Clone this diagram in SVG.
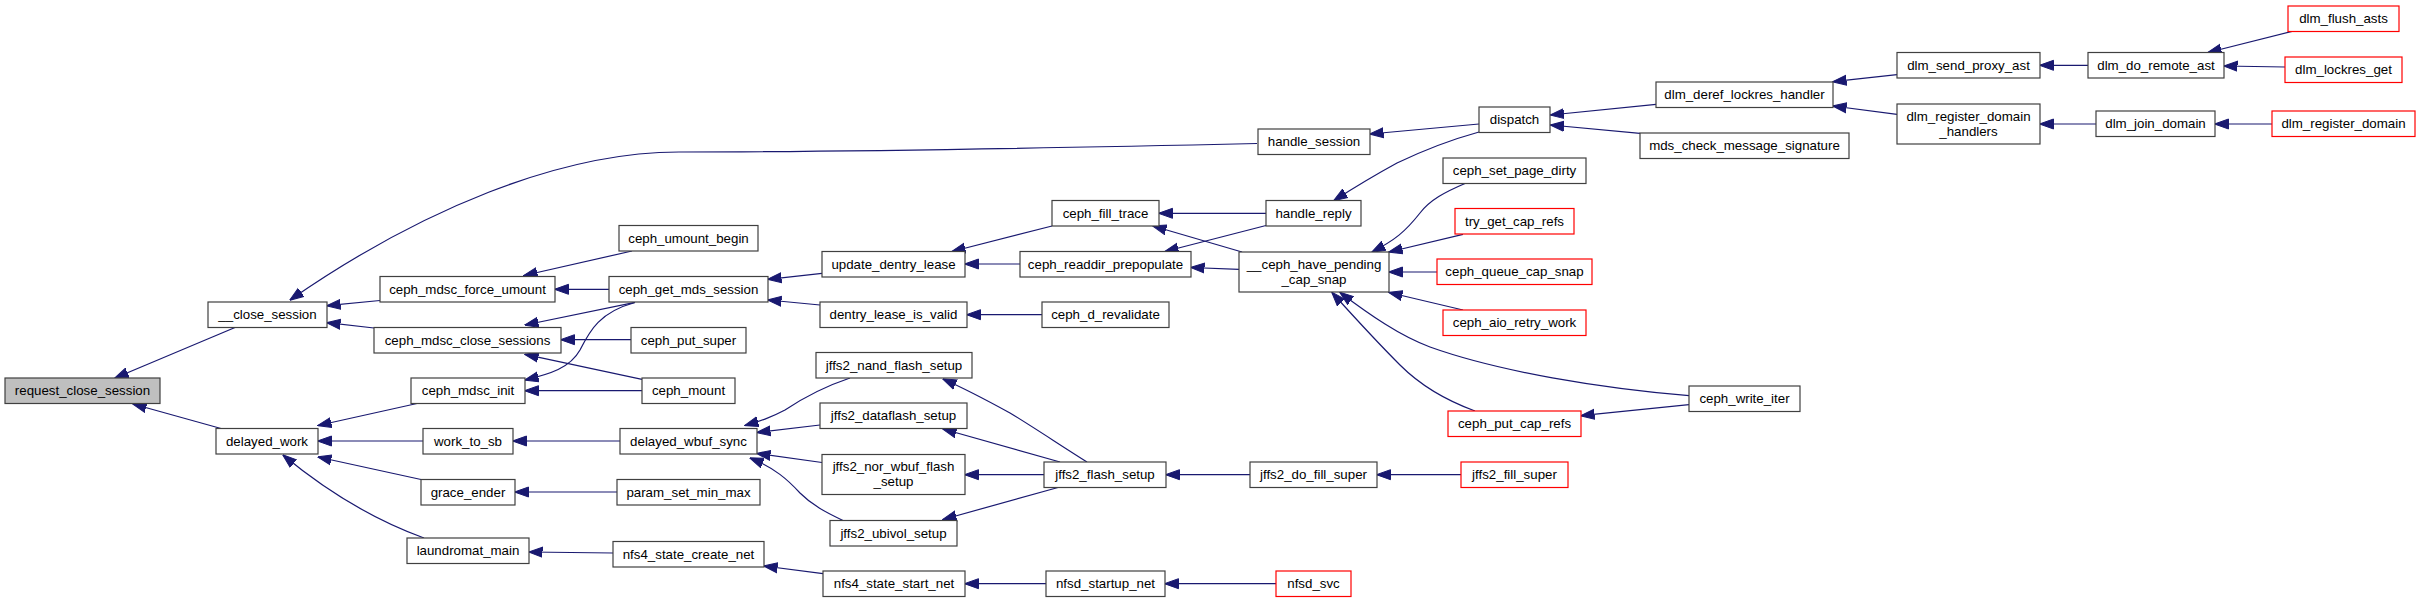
<svg xmlns="http://www.w3.org/2000/svg" width="2420" height="603" viewBox="0 0 2420 603">
<style>
.n rect{fill:#ffffff;stroke:#404040;stroke-width:1.2}
.r rect{fill:#ffffff;stroke:#ff0000;stroke-width:1.2}
.root rect{fill:#bfbfbf;stroke:#404040;stroke-width:1.2}
text{font-family:"Liberation Sans",Arial,Helvetica,sans-serif;font-size:13.3px;text-anchor:middle;fill:#000000}
#edges path{fill:none;stroke:#191970;stroke-width:1.2;marker-end:url(#ah)}
</style>
<defs>
<marker id="ah" markerUnits="userSpaceOnUse" markerWidth="14" markerHeight="12" viewBox="0 0 14 12" refX="13.5" refY="6" orient="auto">
<path d="M0,1 L14,6 L0,11 z" fill="#191970" stroke="#191970" stroke-width="1"/>
</marker>
</defs>
<rect width="2420" height="603" fill="#ffffff"/>
<g id="edges">
<path d="M235,327.5 L115,378"/>
<path d="M221,428.5 L133,404"/>
<path d="M1257,143.5 C1100,147 850,152 679,152 C560,152 420,210 290,300"/>
<path d="M380,300.5 L327,305.7"/>
<path d="M374,328 L327,322.7"/>
<path d="M417,403.5 L318,425.5"/>
<path d="M423,441 L318,441"/>
<path d="M421,479.5 L318,457"/>
<path d="M424,538 C380,522 330,494 283,455"/>
<path d="M632,251 L524,275.5"/>
<path d="M609,289.3 L555,289.3"/>
<path d="M635,302.3 L525,325"/>
<path d="M635,302.5 C600,312 590,330 580,350 C570,368 550,374 525,380"/>
<path d="M631,339.7 L561,339.7"/>
<path d="M642,379.3 L525,354.3"/>
<path d="M642,390.7 L525,390.7"/>
<path d="M620,441 L513,441"/>
<path d="M617,492 L515,492"/>
<path d="M613,553 L529,552"/>
<path d="M822,273.3 L768,279.3"/>
<path d="M820,305 L768,300"/>
<path d="M850,378 C820,388 800,400 785,410 C770,418 760,421 745,425.5"/>
<path d="M820,425 L757,432.5"/>
<path d="M822,462.5 L757,453.5"/>
<path d="M843,520.5 C825,512 812,505 800,493 C788,480 775,468 750,458"/>
<path d="M823,573.7 L764,566"/>
<path d="M1052,226 L952,251.5"/>
<path d="M1020,264 L965,264"/>
<path d="M1042,314.7 L967,314.7"/>
<path d="M1087,462 C1060,445 1030,425 1010,413 C990,402 970,391 943,379"/>
<path d="M1060,462 L943,429"/>
<path d="M1044,474.7 L965,474.7"/>
<path d="M1058,487.5 L943,519.5"/>
<path d="M1250,474.7 L1166,474.7"/>
<path d="M1461,474.7 L1377,474.7"/>
<path d="M1046,583.7 L965,583.7"/>
<path d="M1276,583.7 L1165,583.7"/>
<path d="M1266,213.3 L1159,213.3"/>
<path d="M1266,225.5 L1165,251.5"/>
<path d="M1242,252 L1153,226"/>
<path d="M1239,269.3 L1191,267.5"/>
<path d="M1479,124 L1370,134"/>
<path d="M1479,132 C1450,140 1420,152 1397,163 C1375,175 1355,187 1334,200.5"/>
<path d="M1656,104.3 L1550.5,115"/>
<path d="M1640,133.3 L1550.5,125"/>
<path d="M1465,183.5 C1445,192 1430,200 1420,213 C1405,232 1395,240 1372,252"/>
<path d="M1463,234.3 L1389,252"/>
<path d="M1437,272 L1389,272"/>
<path d="M1463,310 L1389,292.5"/>
<path d="M1689,395.7 C1600,388 1500,372 1430,347 C1400,336 1370,315 1340,292.5"/>
<path d="M1475,411 C1445,400 1420,385 1400,365 C1380,345 1355,318 1332,292.5"/>
<path d="M1689,404.7 L1581,415.7"/>
<path d="M1897,74.7 L1833,81.7"/>
<path d="M1897,114.3 L1833,106"/>
<path d="M2088,65.3 L2040,65.3"/>
<path d="M2096,124 L2040,124"/>
<path d="M2292,31.3 L2208,52.5"/>
<path d="M2285,67 L2224,66"/>
<path d="M2272,124 L2215,124"/>
</g>
<g id="request_close_session" class="root"><rect x="5" y="378" width="155" height="25.5"/><text x="82.5" y="395.2">request_close_session</text></g>
<g id="__close_session" class="n"><rect x="208" y="302" width="119" height="25.5"/><text x="267.5" y="319.2">__close_session</text></g>
<g id="delayed_work" class="n"><rect x="216" y="428.5" width="102" height="25.5"/><text x="267" y="445.7">delayed_work</text></g>
<g id="ceph_mdsc_force_umount" class="n"><rect x="380" y="276.5" width="175" height="25.5"/><text x="467.5" y="293.7">ceph_mdsc_force_umount</text></g>
<g id="ceph_mdsc_close_sessions" class="n"><rect x="374" y="327.5" width="187" height="25.5"/><text x="467.5" y="344.7">ceph_mdsc_close_sessions</text></g>
<g id="ceph_mdsc_init" class="n"><rect x="411" y="378" width="114" height="25.5"/><text x="468" y="395.2">ceph_mdsc_init</text></g>
<g id="work_to_sb" class="n"><rect x="423" y="428.5" width="90" height="25.5"/><text x="468" y="445.7">work_to_sb</text></g>
<g id="grace_ender" class="n"><rect x="421" y="479.5" width="94" height="25.5"/><text x="468" y="496.7">grace_ender</text></g>
<g id="laundromat_main" class="n"><rect x="407" y="538" width="122" height="25.5"/><text x="468" y="555.2">laundromat_main</text></g>
<g id="handle_session" class="n"><rect x="1258" y="129" width="112" height="25.5"/><text x="1314" y="146.2">handle_session</text></g>
<g id="ceph_umount_begin" class="n"><rect x="619" y="225.5" width="139" height="25.5"/><text x="688.5" y="242.7">ceph_umount_begin</text></g>
<g id="ceph_get_mds_session" class="n"><rect x="609" y="276.5" width="159" height="25.5"/><text x="688.5" y="293.7">ceph_get_mds_session</text></g>
<g id="ceph_put_super" class="n"><rect x="631" y="327.5" width="115" height="25.5"/><text x="688.5" y="344.7">ceph_put_super</text></g>
<g id="ceph_mount" class="n"><rect x="642" y="378" width="93" height="25.5"/><text x="688.5" y="395.2">ceph_mount</text></g>
<g id="delayed_wbuf_sync" class="n"><rect x="620" y="428.5" width="137" height="25.5"/><text x="688.5" y="445.7">delayed_wbuf_sync</text></g>
<g id="param_set_min_max" class="n"><rect x="617" y="479.5" width="143" height="25.5"/><text x="688.5" y="496.7">param_set_min_max</text></g>
<g id="nfs4_state_create_net" class="n"><rect x="613" y="541.5" width="151" height="25.5"/><text x="688.5" y="558.7">nfs4_state_create_net</text></g>
<g id="update_dentry_lease" class="n"><rect x="822" y="251.5" width="143" height="25.5"/><text x="893.5" y="268.7">update_dentry_lease</text></g>
<g id="dentry_lease_is_valid" class="n"><rect x="820" y="302" width="147" height="25.5"/><text x="893.5" y="319.2">dentry_lease_is_valid</text></g>
<g id="jffs2_nand_flash_setup" class="n"><rect x="816" y="352.5" width="156" height="25.5"/><text x="894" y="369.7">jffs2_nand_flash_setup</text></g>
<g id="jffs2_dataflash_setup" class="n"><rect x="820" y="403" width="147" height="25.5"/><text x="893.5" y="420.2">jffs2_dataflash_setup</text></g>
<g id="jffs2_nor_wbuf_flash_setup" class="n"><rect x="822" y="454.5" width="143" height="40"/><text x="893.5" y="471">jffs2_nor_wbuf_flash</text><text x="893.5" y="486">_setup</text></g>
<g id="jffs2_ubivol_setup" class="n"><rect x="830" y="520.5" width="127" height="25.5"/><text x="893.5" y="537.7">jffs2_ubivol_setup</text></g>
<g id="nfs4_state_start_net" class="n"><rect x="823" y="571" width="142" height="25.5"/><text x="894" y="588.2">nfs4_state_start_net</text></g>
<g id="ceph_fill_trace" class="n"><rect x="1052" y="200.5" width="107" height="25.5"/><text x="1105.5" y="217.7">ceph_fill_trace</text></g>
<g id="ceph_readdir_prepopulate" class="n"><rect x="1020" y="251.5" width="171" height="25.5"/><text x="1105.5" y="268.7">ceph_readdir_prepopulate</text></g>
<g id="ceph_d_revalidate" class="n"><rect x="1042" y="302" width="127" height="25.5"/><text x="1105.5" y="319.2">ceph_d_revalidate</text></g>
<g id="jffs2_flash_setup" class="n"><rect x="1044" y="462" width="122" height="25.5"/><text x="1105" y="479.2">jffs2_flash_setup</text></g>
<g id="nfsd_startup_net" class="n"><rect x="1046" y="571" width="119" height="25.5"/><text x="1105.5" y="588.2">nfsd_startup_net</text></g>
<g id="handle_reply" class="n"><rect x="1266" y="200.5" width="95" height="25.5"/><text x="1313.5" y="217.7">handle_reply</text></g>
<g id="__ceph_have_pending_cap_snap" class="n"><rect x="1239" y="252" width="150" height="40"/><text x="1314" y="268.5">__ceph_have_pending</text><text x="1314" y="283.5">_cap_snap</text></g>
<g id="jffs2_do_fill_super" class="n"><rect x="1250" y="462" width="127" height="25.5"/><text x="1313.5" y="479.2">jffs2_do_fill_super</text></g>
<g id="nfsd_svc" class="r"><rect x="1276" y="571" width="75" height="25.5"/><text x="1313.5" y="588.2">nfsd_svc</text></g>
<g id="dispatch" class="n"><rect x="1479" y="107" width="71" height="25.5"/><text x="1514.5" y="124.2">dispatch</text></g>
<g id="ceph_set_page_dirty" class="n"><rect x="1443" y="158" width="143" height="25.5"/><text x="1514.5" y="175.2">ceph_set_page_dirty</text></g>
<g id="try_get_cap_refs" class="r"><rect x="1455" y="208.5" width="119" height="25.5"/><text x="1514.5" y="225.7">try_get_cap_refs</text></g>
<g id="ceph_queue_cap_snap" class="r"><rect x="1437" y="259" width="155" height="25.5"/><text x="1514.5" y="276.2">ceph_queue_cap_snap</text></g>
<g id="ceph_aio_retry_work" class="r"><rect x="1443" y="310" width="143" height="25.5"/><text x="1514.5" y="327.2">ceph_aio_retry_work</text></g>
<g id="ceph_put_cap_refs" class="r"><rect x="1448" y="411" width="133" height="25.5"/><text x="1514.5" y="428.2">ceph_put_cap_refs</text></g>
<g id="jffs2_fill_super" class="r"><rect x="1461" y="462" width="107" height="25.5"/><text x="1514.5" y="479.2">jffs2_fill_super</text></g>
<g id="ceph_write_iter" class="n"><rect x="1689" y="386" width="111" height="25.5"/><text x="1744.5" y="403.2">ceph_write_iter</text></g>
<g id="dlm_deref_lockres_handler" class="n"><rect x="1656" y="82" width="177" height="25.5"/><text x="1744.5" y="99.2">dlm_deref_lockres_handler</text></g>
<g id="mds_check_message_signature" class="n"><rect x="1640" y="133" width="209" height="25.5"/><text x="1744.5" y="150.2">mds_check_message_signature</text></g>
<g id="dlm_send_proxy_ast" class="n"><rect x="1897" y="52.5" width="143" height="25.5"/><text x="1968.5" y="69.7">dlm_send_proxy_ast</text></g>
<g id="dlm_register_domain_handlers" class="n"><rect x="1897" y="104" width="143" height="40"/><text x="1968.5" y="120.5">dlm_register_domain</text><text x="1968.5" y="135.5">_handlers</text></g>
<g id="dlm_do_remote_ast" class="n"><rect x="2088" y="52.5" width="136" height="25.5"/><text x="2156" y="69.7">dlm_do_remote_ast</text></g>
<g id="dlm_join_domain" class="n"><rect x="2096" y="111" width="119" height="25.5"/><text x="2155.5" y="128.2">dlm_join_domain</text></g>
<g id="dlm_flush_asts" class="r"><rect x="2288" y="6" width="111" height="25.5"/><text x="2343.5" y="23.2">dlm_flush_asts</text></g>
<g id="dlm_lockres_get" class="r"><rect x="2285" y="57" width="117" height="25.5"/><text x="2343.5" y="74.2">dlm_lockres_get</text></g>
<g id="dlm_register_domain" class="r"><rect x="2272" y="111" width="143" height="25.5"/><text x="2343.5" y="128.2">dlm_register_domain</text></g>
</svg>
